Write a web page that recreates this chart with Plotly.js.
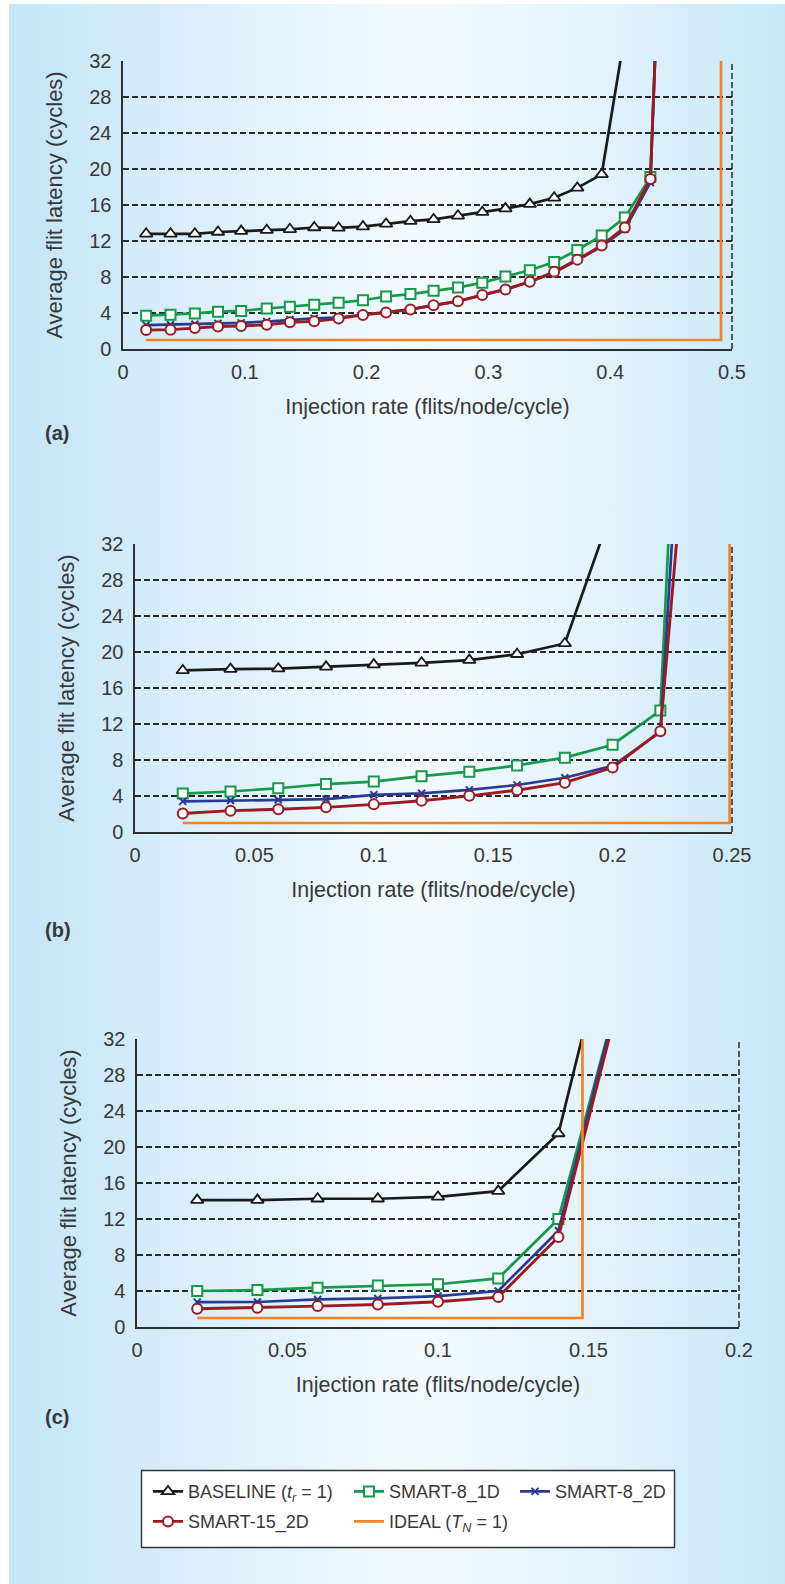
<!DOCTYPE html>
<html>
<head>
<meta charset="utf-8">
<script src="https://cdn.plot.ly/plotly-3.0.1.min.js"></script>
<style>
  html, body { margin: 0; padding: 0; background: #ffffff; }
  #bg { position: absolute; left: 9px; top: 4px; width: 776px; height: 1580px;
        background: linear-gradient(to right, #c3e5f7 0%, #dbeffa 25%, #f3fafe 52%, #e4f3fb 75%, #c6e7f8 100%); }
  #chart { position: absolute; left: 0; top: 0; width: 785px; height: 1584px; }
</style>
</head>
<body>
<div id="bg"></div>
<div id="chart"></div>
<script>
// ---------------- data ----------------
const seriesNames = ['BASELINE (<i>t</i><sub><i>r</i></sub> = 1)', 'SMART-8_1D', 'SMART-8_2D', 'SMART-15_2D', 'IDEAL (<i>T</i><sub><i>N</i></sub> = 1)'];

// Panel (a)
const xA = [0.019, 0.039, 0.059, 0.078, 0.097, 0.118, 0.137, 0.157, 0.177, 0.197, 0.216, 0.236, 0.255, 0.275, 0.295, 0.314, 0.334, 0.354, 0.373, 0.393, 0.412, 0.433, 0.452];
const baselineA = [12.8, 12.8, 12.8, 13.0, 13.1, 13.2, 13.3, 13.5, 13.45, 13.6, 13.9, 14.2, 14.4, 14.8, 15.2, 15.6, 16.1, 16.8, 17.9, 19.4, 35];
const smart81DA = [3.7, 3.8, 3.95, 4.15, 4.23, 4.5, 4.7, 4.93, 5.15, 5.42, 5.83, 6.1, 6.46, 6.82, 7.37, 8.05, 8.75, 9.67, 11.0, 12.6, 14.6, 19.1, 85];
const smart82DA = [2.65, 2.7, 2.75, 2.85, 2.9, 3.05, 3.25, 3.4, 3.5, 3.8, 4.05, 4.4, 4.85, 5.3, 6.0, 6.62, 7.47, 8.5, 9.85, 11.4, 13.3, 18.5, 87];
const smart152DA = [2.1, 2.15, 2.32, 2.5, 2.55, 2.7, 2.96, 3.07, 3.38, 3.79, 4.05, 4.4, 4.86, 5.3, 6.0, 6.62, 7.47, 8.57, 9.93, 11.5, 13.5, 18.9, 85];
const idealXA = [0.019, 0.491, 0.491];
const idealYA = [1, 1, 32];

// Panel (b)
const xB = [0.02, 0.04, 0.06, 0.08, 0.10, 0.12, 0.14, 0.16, 0.18, 0.20, 0.22, 0.24];
const baselineB = [17.95, 18.1, 18.15, 18.35, 18.6, 18.8, 19.1, 19.75, 20.95, 36];
const smart81DB = [4.27, 4.5, 4.86, 5.33, 5.6, 6.2, 6.7, 7.4, 8.26, 9.7, 13.5, 125];
const smart82DB = [3.4, 3.5, 3.58, 3.65, 4.13, 4.3, 4.68, 5.22, 6.03, 7.35, 11.1, 98];
const smart152DB = [2.05, 2.37, 2.52, 2.74, 3.07, 3.47, 4.02, 4.64, 5.48, 7.16, 11.2, 73];
const idealXB = [0.02, 0.249, 0.249];
const idealYB = [1, 1, 32];

// Panel (c)
const xC = [0.02, 0.04, 0.06, 0.08, 0.10, 0.12, 0.14, 0.16];
const baselineC = [14.1, 14.1, 14.25, 14.25, 14.45, 15.1, 21.5, 48.5];
const smart81DC = [4.0, 4.1, 4.37, 4.6, 4.75, 5.4, 12.0, 37];
const smart82DC = [2.76, 2.78, 3.06, 3.17, 3.44, 4.0, 10.7, 37];
const smart152DC = [2.02, 2.13, 2.32, 2.5, 2.8, 3.32, 10.0, 36.2];
const idealXC = [0.02, 0.148, 0.148];
const idealYC = [1, 1, 32];

const panelLabels = ['(a)', '(b)', '(c)'];
const xRanges = [[0, 0.5], [0, 0.25], [0, 0.2]];
const xDticks = [0.1, 0.05, 0.05];
const yTickVals = [0, 4, 8, 12, 16, 20, 24, 28, 32];
const xTitle = 'Injection rate (flits/node/cycle)';
const yTitle = 'Average flit latency (cycles)';

// ---------------- styling / layout ----------------
const W = 785, H = 1584;
const px = v => v / W;
const py = v => 1 - v / H;
const FONT = '"Liberation Sans", Arial, Helvetica, sans-serif';
const TXT = '#383838';

const styles = [
  {color: '#1a1a1a', width: 2.7, marker: {symbol: 'triangle-up', size: 11, color: '#ffffff', line: {color: '#1a1a1a', width: 1.8}}},
  {color: '#15994a', width: 2.7, marker: {symbol: 'square', size: 10, color: '#ffffff', line: {color: '#15994a', width: 2}}},
  {color: '#283b94', width: 2.7, marker: {symbol: 'x-thin', size: 7, color: '#283b94', line: {color: '#283b94', width: 2}}},
  {color: '#9c1b22', width: 2.9, marker: {symbol: 'circle', size: 10, color: '#ffffff', line: {color: '#9c1b22', width: 2}}},
  {color: '#f58220', width: 2.7, marker: null}
];
const legendIds = ['legend', 'legend2', 'legend3', 'legend4', 'legend5'];

const panels = [
  {xs: [xA, xA, xA, xA, idealXA], ys: [baselineA, smart81DA, smart82DA, smart152DA, idealYA]},
  {xs: [xB, xB, xB, xB, idealXB], ys: [baselineB, smart81DB, smart82DB, smart152DB, idealYB]},
  {xs: [xC, xC, xC, xC, idealXC], ys: [baselineC, smart81DC, smart82DC, smart152DC, idealYC]}
];

// plot-area pixel boxes [left, right, top, bottom] (heights multiple of 8 for crisp grid)
const boxes = [
  [123, 732, 61, 349],
  [135, 732, 544, 832],
  [137, 739, 1039, 1327]
];
const labelY = [433, 930, 1416.7];

const traces = [];
panels.forEach((p, pi) => {
  const xa = pi === 0 ? 'x' : 'x' + (pi + 1);
  const ya = pi === 0 ? 'y' : 'y' + (pi + 1);
  for (let s = 0; s < 5; s++) {
    const st = styles[s];
    const tr = {
      type: 'scatter',
      x: p.xs[s].slice(0, p.ys[s].length),
      y: p.ys[s],
      xaxis: xa, yaxis: ya,
      name: seriesNames[s],
      mode: st.marker ? 'lines+markers' : 'lines',
      line: {color: st.color, width: st.width},
      showlegend: pi === 0,
      legend: legendIds[s],
      hoverinfo: 'skip'
    };
    if (st.marker) tr.marker = st.marker;
    traces.push(tr);
  }
});

const layout = {
  width: W, height: H,
  margin: {l: 0, r: 0, t: 0, b: 0},
  paper_bgcolor: 'rgba(0,0,0,0)',
  plot_bgcolor: 'rgba(0,0,0,0)',
  font: {family: FONT, color: TXT},
  shapes: [],
  annotations: []
};

boxes.forEach((b, i) => {
  const sfx = i === 0 ? '' : String(i + 1);
  layout['xaxis' + sfx] = {
    domain: [px(b[0]), px(b[1])],
    range: xRanges[i], tick0: 0, dtick: xDticks[i],
    anchor: 'y' + sfx,
    showgrid: false, zeroline: false,
    showline: true, linecolor: '#2e2e2e', linewidth: 1.6,
    ticks: '', ticklabelstandoff: 4,
    tickfont: {family: FONT, size: 20, color: TXT},
    title: {text: xTitle, font: {family: FONT, size: 21.5, color: TXT}, standoff: 17},
    fixedrange: true
  };
  layout['yaxis' + sfx] = {
    domain: [py(b[3]), py(b[2])],
    range: [0, 32], tickvals: yTickVals,
    anchor: 'x' + sfx,
    showgrid: true, gridcolor: '#2a2a2a', gridwidth: 1.5, griddash: '6px,3px',
    zeroline: false,
    showline: true, linecolor: '#2e2e2e', linewidth: 1.6,
    ticks: '', ticklabelstandoff: 6,
    tickfont: {family: FONT, size: 20, color: TXT},
    title: {text: yTitle, font: {family: FONT, size: 22, color: TXT}, standoff: 20},
    fixedrange: true
  };
  layout.shapes.push({
    type: 'line', xref: 'x' + sfx + ' domain', yref: 'y' + sfx + ' domain',
    x0: 1, x1: 1, y0: 0, y1: 1,
    line: {color: '#2a2a2a', width: 1.5, dash: '6px,3px'}
  });
  layout.annotations.push({
    xref: 'paper', yref: 'paper', x: px(43), y: py(labelY[i]),
    xanchor: 'left', yanchor: 'middle', showarrow: false,
    text: '<b>' + panelLabels[i] + '</b>',
    font: {family: FONT, size: 20, color: TXT}
  });
});

// legend frame
layout.shapes.push({
  type: 'rect', xref: 'paper', yref: 'paper', layer: 'below',
  x0: px(141.5), x1: px(674.5), y0: py(1547.5), y1: py(1470.5),
  fillcolor: '#ffffff', line: {color: '#333333', width: 1.4}
});

// five single-item legends placed in a 3+2 grid
const legendPos = [[148, 1491.7], [349, 1491.7], [515, 1491.7], [148, 1521.7], [349, 1521.7]];
legendIds.forEach((id, i) => {
  layout[id] = {
    x: px(legendPos[i][0]), y: py(legendPos[i][1]),
    xanchor: 'left', yanchor: 'middle',
    bgcolor: 'rgba(0,0,0,0)', borderwidth: 0,
    font: {family: FONT, size: 18, color: TXT},
    itemwidth: 30
  };
});

Plotly.newPlot('chart', traces, layout, {staticPlot: true, displayModeBar: false});
</script>
</body>
</html>
